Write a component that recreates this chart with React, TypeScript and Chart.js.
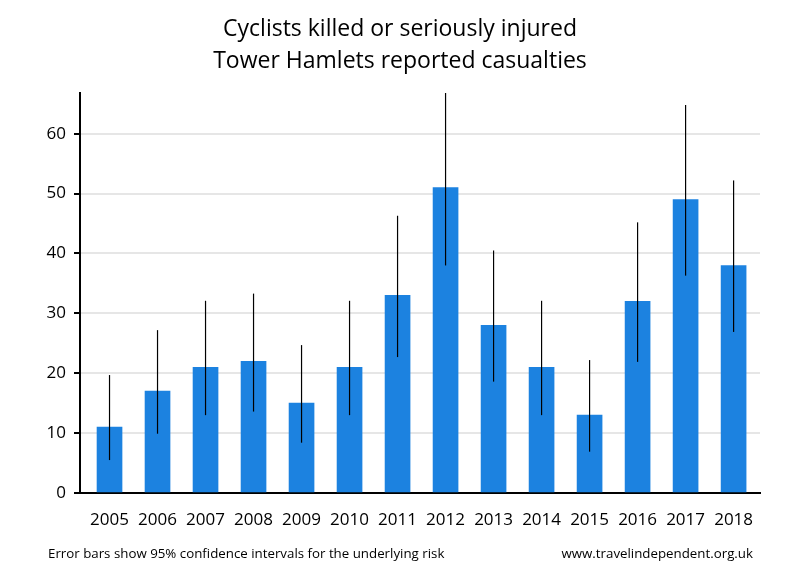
import React, { useEffect, useRef } from "react";
import { Chart, registerables } from "chart.js";

Chart.register(...registerables);

const years = ["2005", "2006", "2007", "2008", "2009", "2010", "2011", "2012", "2013", "2014", "2015", "2016", "2017", "2018"];
const casualties = [11, 17, 21, 22, 15, 21, 33, 51, 28, 21, 13, 32, 49, 38];
const ciLow = [5.5, 9.9, 13.0, 13.6, 8.4, 13.0, 22.7, 38.0, 18.6, 13.0, 6.9, 21.9, 36.3, 26.9];
const ciHigh = [19.7, 27.2, 32.1, 33.3, 24.7, 32.1, 46.3, 67.1, 40.5, 32.1, 22.2, 45.2, 64.8, 52.2];
const yTicks = [0, 10, 20, 30, 40, 50, 60];

const titleLines = ["Cyclists killed or seriously injured", "Tower Hamlets reported casualties"];
const footLeft = "Error bars show 95% confidence intervals for the underlying risk";
const footRight = "www.travelindependent.org.uk";

const FONT = "'Open Sans', 'DejaVu Sans', sans-serif";

export default function App() {
  const ref = useRef<HTMLCanvasElement | null>(null);

  useEffect(() => {
    if (!ref.current) return;

    const errorBars = {
      id: "errorBars",
      afterDatasetsDraw(chart: any) {
        const { ctx, chartArea, scales } = chart;
        const xs = scales.x;
        const ys = scales.y;
        ctx.save();
        ctx.beginPath();
        ctx.rect(chartArea.left, chartArea.top, chartArea.right - chartArea.left, chartArea.bottom - chartArea.top);
        ctx.clip();
        ctx.strokeStyle = "#000";
        ctx.lineWidth = 1.2;
        for (let i = 0; i < years.length; i++) {
          const x = xs.getPixelForValue(i);
          const y1 = ys.getPixelForValue(ciLow[i]);
          const y2 = ys.getPixelForValue(ciHigh[i]);
          ctx.beginPath();
          ctx.moveTo(x, y1);
          ctx.lineTo(x, y2);
          ctx.stroke();
        }
        ctx.restore();
      },
    };

    const texts = {
      id: "texts",
      afterDraw(chart: any) {
        const ctx = chart.ctx;
        ctx.save();
        ctx.fillStyle = "#000";
        ctx.textAlign = "center";
        ctx.textBaseline = "middle";
        ctx.font = `23px ${FONT}`;
        ctx.fillText(titleLines[0], 400, 29);
        ctx.fillText(titleLines[1], 400, 61);
        ctx.font = `13.3px ${FONT}`;
        ctx.textAlign = "left";
        ctx.fillText(footLeft, 48, 554);
        ctx.textAlign = "right";
        ctx.fillText(footRight, 753, 554);
        ctx.restore();
      },
    };

    const chart = new Chart(ref.current, {
      type: "bar",
      data: {
        datasets: [
          {
            data: casualties.map((v, i) => ({ x: i, y: v })),
            backgroundColor: "#1c82e0",
            barThickness: 25,
            borderWidth: 0,
          },
        ],
      },
      options: {
        animation: false,
        responsive: false,
        maintainAspectRatio: false,
        layout: { padding: { top: 93, left: 0, right: 40, bottom: 0 } },
        plugins: {
          legend: { display: false },
          title: { display: false },
          tooltip: { enabled: false },
        },
        scales: {
          x: {
            type: "linear",
            offset: false,
            min: -0.615,
            max: 13.55,
            afterBuildTicks(scale: any) {
              scale.ticks = years.map((_, i) => ({ value: i }));
            },
            afterFit(scale: any) {
              scale.height = 87;
            },
            grid: { display: false, drawTicks: false, offset: false },
            border: { display: true, color: "#000", width: 2 },
            ticks: {
              color: "#000",
              padding: 17,
              font: { family: FONT, size: 17 },
              maxRotation: 0,
              autoSkip: false,
              callback: (v: any) => years[Math.round(Number(v))] ?? "",
            },
          },
          y: {
            min: 0,
            max: 66.8,
            afterBuildTicks(scale: any) {
              scale.ticks = yTicks.map((v) => ({ value: v }));
            },
            afterFit(scale: any) {
              scale.width = 80;
            },
            grid: { color: "#e6e6e6", lineWidth: 2, tickColor: "#000", tickLength: 6 },
            border: { display: true, color: "#000", width: 2 },
            ticks: {
              color: "#000",
              padding: 8,
              font: { family: FONT, size: 17 },
            },
          },
        },
      },
      plugins: [errorBars, texts],
    } as any);

    return () => chart.destroy();
  }, []);

  return (
    <div style={{ position: "absolute", left: 0, top: 0, width: 800, height: 580, background: "#fff" }}>
      <canvas ref={ref} width={800} height={580} style={{ display: "block", width: 800, height: 580 }} />
    </div>
  );
}
